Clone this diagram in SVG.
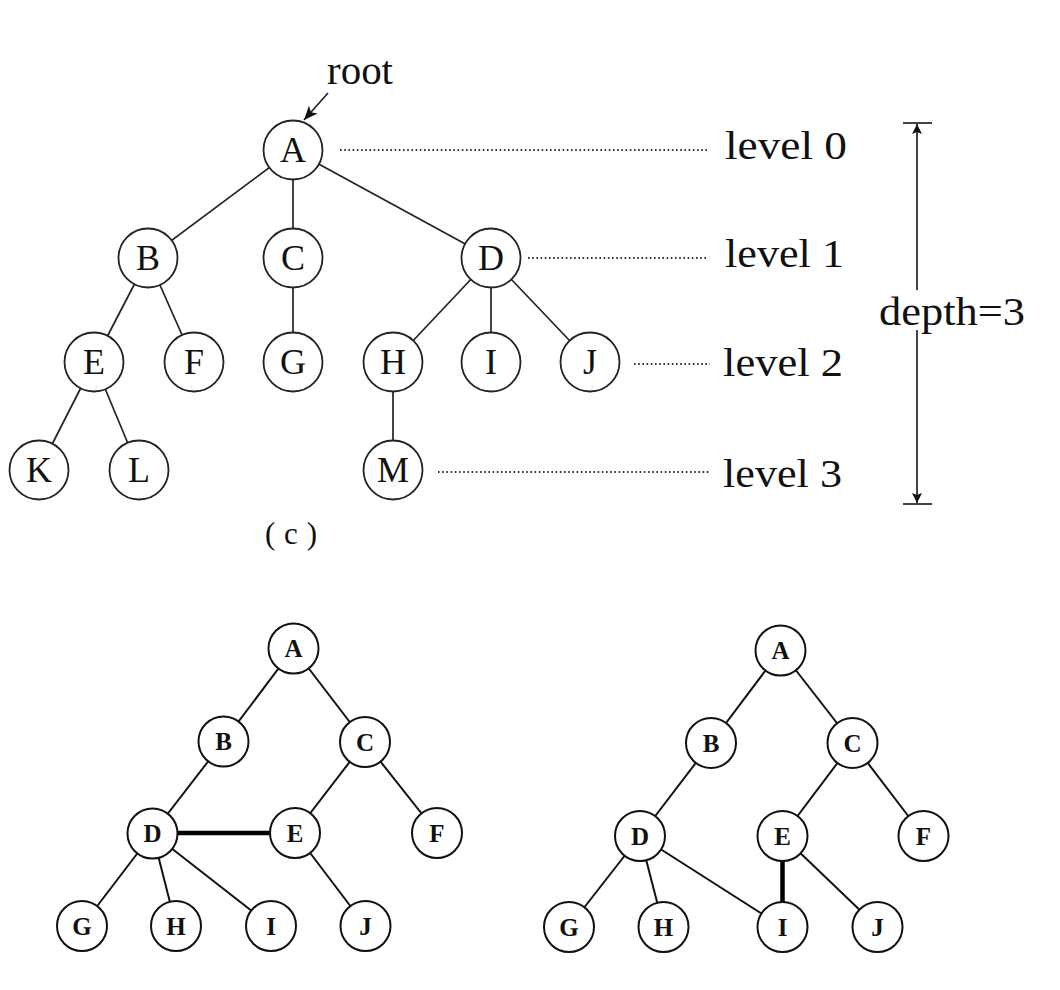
<svg xmlns="http://www.w3.org/2000/svg" width="1060" height="990" viewBox="0 0 1060 990">
<style>
.n1 circle{fill:#fff;stroke:#222;stroke-width:1.8}
.n1 text{font-family:"Liberation Serif",serif;font-size:36px;fill:#111;text-anchor:middle}
.n2 circle{fill:#fff;stroke:#111;stroke-width:2}
.n2 text{font-family:"Liberation Serif",serif;font-size:25px;font-weight:bold;fill:#111;text-anchor:middle}
.e{stroke:#222;stroke-width:1.7;fill:none}
.e2{stroke:#111;stroke-width:2;fill:none}
.thick{stroke:#000;stroke-width:4.5;fill:none}
.dot{stroke:#333;stroke-width:2;stroke-dasharray:1.6 2.6;fill:none}
.lbl{font-family:"Liberation Serif",serif;font-size:40px;fill:#111}
</style>
<defs>
<marker id="ah" viewBox="0 0 10 12" refX="10" refY="6" markerWidth="12" markerHeight="12" markerUnits="userSpaceOnUse" orient="auto">
<path d="M0,1 L10,6 L0,11 L2,6 Z" fill="#111"/>
</marker>
<marker id="ahr" viewBox="0 0 12 12" refX="12" refY="6" markerWidth="14" markerHeight="14" markerUnits="userSpaceOnUse" orient="auto">
<path d="M0,1 L12,6 L0,11 L3,6 Z" fill="#111"/>
</marker>
</defs>
<rect width="1060" height="990" fill="#fff"/>

<g id="connectors">
<!-- top tree -->
<line class="e" x1="293" y1="150" x2="148" y2="258"/>
<line class="e" x1="293" y1="150" x2="293" y2="258"/>
<line class="e" x1="293" y1="150" x2="491" y2="258"/>
<line class="e" x1="148" y1="258" x2="94" y2="362"/>
<line class="e" x1="148" y1="258" x2="194" y2="362"/>
<line class="e" x1="293" y1="258" x2="293" y2="362"/>
<line class="e" x1="491" y1="258" x2="393" y2="362"/>
<line class="e" x1="491" y1="258" x2="491" y2="362"/>
<line class="e" x1="491" y1="258" x2="590" y2="362"/>
<line class="e" x1="94" y1="362" x2="39" y2="470"/>
<line class="e" x1="94" y1="362" x2="139" y2="470"/>
<line class="e" x1="393" y1="362" x2="393" y2="470"/>
<!-- root arrow -->
<line class="e" x1="328" y1="93" x2="304" y2="120" marker-end="url(#ahr)"/>
<!-- level dotted lines -->
<line class="dot" x1="340" y1="150" x2="708" y2="150"/>
<line class="dot" x1="528" y1="258" x2="708" y2="258"/>
<line class="dot" x1="634" y1="364" x2="710" y2="364"/>
<line class="dot" x1="438" y1="472" x2="710" y2="472"/>
<!-- depth arrow -->
<line class="e" x1="903" y1="123" x2="932" y2="123"/>
<line class="e" x1="903" y1="504" x2="932" y2="504"/>
<line class="e" x1="917" y1="290" x2="917" y2="124" marker-end="url(#ah)"/>
<line class="e" x1="917" y1="330" x2="917" y2="503" marker-end="url(#ah)"/>

<!-- bottom left tree -->
<line class="e2" x1="293.5" y1="648.5" x2="223.5" y2="741.5"/>
<line class="e2" x1="293.5" y1="648.5" x2="365" y2="742"/>
<line class="e2" x1="223.5" y1="741.5" x2="152.5" y2="833.5"/>
<line class="e2" x1="365" y1="742" x2="295" y2="833"/>
<line class="e2" x1="365" y1="742" x2="437" y2="833"/>
<line class="e2" x1="152.5" y1="833.5" x2="82" y2="926"/>
<line class="e2" x1="152.5" y1="833.5" x2="176" y2="926"/>
<line class="e2" x1="152.5" y1="833.5" x2="271" y2="926"/>
<line class="e2" x1="295" y1="833" x2="365.5" y2="926"/>
<line class="thick" x1="152.5" y1="833" x2="295" y2="833"/>

<!-- bottom right tree -->
<line class="e2" x1="780.5" y1="650.5" x2="711" y2="743"/>
<line class="e2" x1="780.5" y1="650.5" x2="852.5" y2="743"/>
<line class="e2" x1="711" y1="743" x2="640" y2="836"/>
<line class="e2" x1="852.5" y1="743" x2="782.5" y2="836"/>
<line class="e2" x1="852.5" y1="743" x2="923.5" y2="836"/>
<line class="e2" x1="640" y1="836" x2="569" y2="927"/>
<line class="e2" x1="640" y1="836" x2="663.5" y2="927"/>
<line class="e2" x1="640" y1="836" x2="782.5" y2="927"/>
<line class="e2" x1="782.5" y1="836" x2="877.5" y2="927"/>
<line class="thick" x1="782.5" y1="836" x2="782.5" y2="927"/>
</g>

<g id="labels">
<text class="lbl" x="327" y="84" textLength="66" lengthAdjust="spacingAndGlyphs">root</text>
<text class="lbl" x="725" y="159" textLength="122" lengthAdjust="spacingAndGlyphs">level 0</text>
<text class="lbl" x="725" y="267" textLength="119" lengthAdjust="spacingAndGlyphs">level 1</text>
<text class="lbl" x="723" y="376" textLength="120" lengthAdjust="spacingAndGlyphs">level 2</text>
<text class="lbl" x="723" y="487" textLength="119" lengthAdjust="spacingAndGlyphs">level 3</text>
<text class="lbl" x="879" y="325" textLength="146" lengthAdjust="spacingAndGlyphs">depth=3</text>
<text x="265" y="544" font-family="Liberation Serif,serif" font-size="31" fill="#111" textLength="52" lengthAdjust="spacing">(c)</text>
</g>

<g id="top-tree" class="n1">
<g id="tA"><circle cx="293" cy="150" r="29.5"/><text x="293" y="162">A</text></g>
<g id="tB"><circle cx="148" cy="258" r="29.5"/><text x="148" y="270">B</text></g>
<g id="tC"><circle cx="293" cy="258" r="29.5"/><text x="293" y="270">C</text></g>
<g id="tD"><circle cx="491" cy="258" r="29.5"/><text x="491" y="270">D</text></g>
<g id="tE"><circle cx="94" cy="362" r="29.5"/><text x="94" y="374">E</text></g>
<g id="tF"><circle cx="194" cy="362" r="29.5"/><text x="194" y="374">F</text></g>
<g id="tG"><circle cx="293" cy="362" r="29.5"/><text x="293" y="374">G</text></g>
<g id="tH"><circle cx="393" cy="362" r="29.5"/><text x="393" y="374">H</text></g>
<g id="tI"><circle cx="491" cy="362" r="29.5"/><text x="491" y="374">I</text></g>
<g id="tJ"><circle cx="590" cy="362" r="29.5"/><text x="590" y="374">J</text></g>
<g id="tK"><circle cx="39" cy="470" r="29.5"/><text x="39" y="482">K</text></g>
<g id="tL"><circle cx="139" cy="470" r="29.5"/><text x="139" y="482">L</text></g>
<g id="tM"><circle cx="393" cy="470" r="29.5"/><text x="393" y="482">M</text></g>
</g>

<g id="left-tree" class="n2">
<g id="lA"><circle cx="293.5" cy="648.5" r="25"/><text x="293.5" y="657">A</text></g>
<g id="lB"><circle cx="223.5" cy="741.5" r="25"/><text x="223.5" y="750">B</text></g>
<g id="lC"><circle cx="365" cy="742" r="25"/><text x="365" y="750.5">C</text></g>
<g id="lD"><circle cx="152.5" cy="833.5" r="25"/><text x="152.5" y="842">D</text></g>
<g id="lE"><circle cx="295" cy="833" r="25"/><text x="295" y="841.5">E</text></g>
<g id="lF"><circle cx="437" cy="833" r="25"/><text x="437" y="841.5">F</text></g>
<g id="lG"><circle cx="82" cy="926" r="25"/><text x="82" y="934.5">G</text></g>
<g id="lH"><circle cx="176" cy="926" r="25"/><text x="176" y="934.5">H</text></g>
<g id="lI"><circle cx="271" cy="926" r="25"/><text x="271" y="934.5">I</text></g>
<g id="lJ"><circle cx="365.5" cy="926" r="25"/><text x="365.5" y="934.5">J</text></g>
</g>

<g id="right-tree" class="n2">
<g id="rA"><circle cx="780.5" cy="650.5" r="25"/><text x="780.5" y="659">A</text></g>
<g id="rB"><circle cx="711" cy="743" r="25"/><text x="711" y="751.5">B</text></g>
<g id="rC"><circle cx="852.5" cy="743" r="25"/><text x="852.5" y="751.5">C</text></g>
<g id="rD"><circle cx="640" cy="836" r="25"/><text x="640" y="844.5">D</text></g>
<g id="rE"><circle cx="782.5" cy="836" r="25"/><text x="782.5" y="844.5">E</text></g>
<g id="rF"><circle cx="923.5" cy="836" r="25"/><text x="923.5" y="844.5">F</text></g>
<g id="rG"><circle cx="569" cy="927" r="25"/><text x="569" y="935.5">G</text></g>
<g id="rH"><circle cx="663.5" cy="927" r="25"/><text x="663.5" y="935.5">H</text></g>
<g id="rI"><circle cx="782.5" cy="927" r="25"/><text x="782.5" y="935.5">I</text></g>
<g id="rJ"><circle cx="877.5" cy="927" r="25"/><text x="877.5" y="935.5">J</text></g>
</g>
</svg>
